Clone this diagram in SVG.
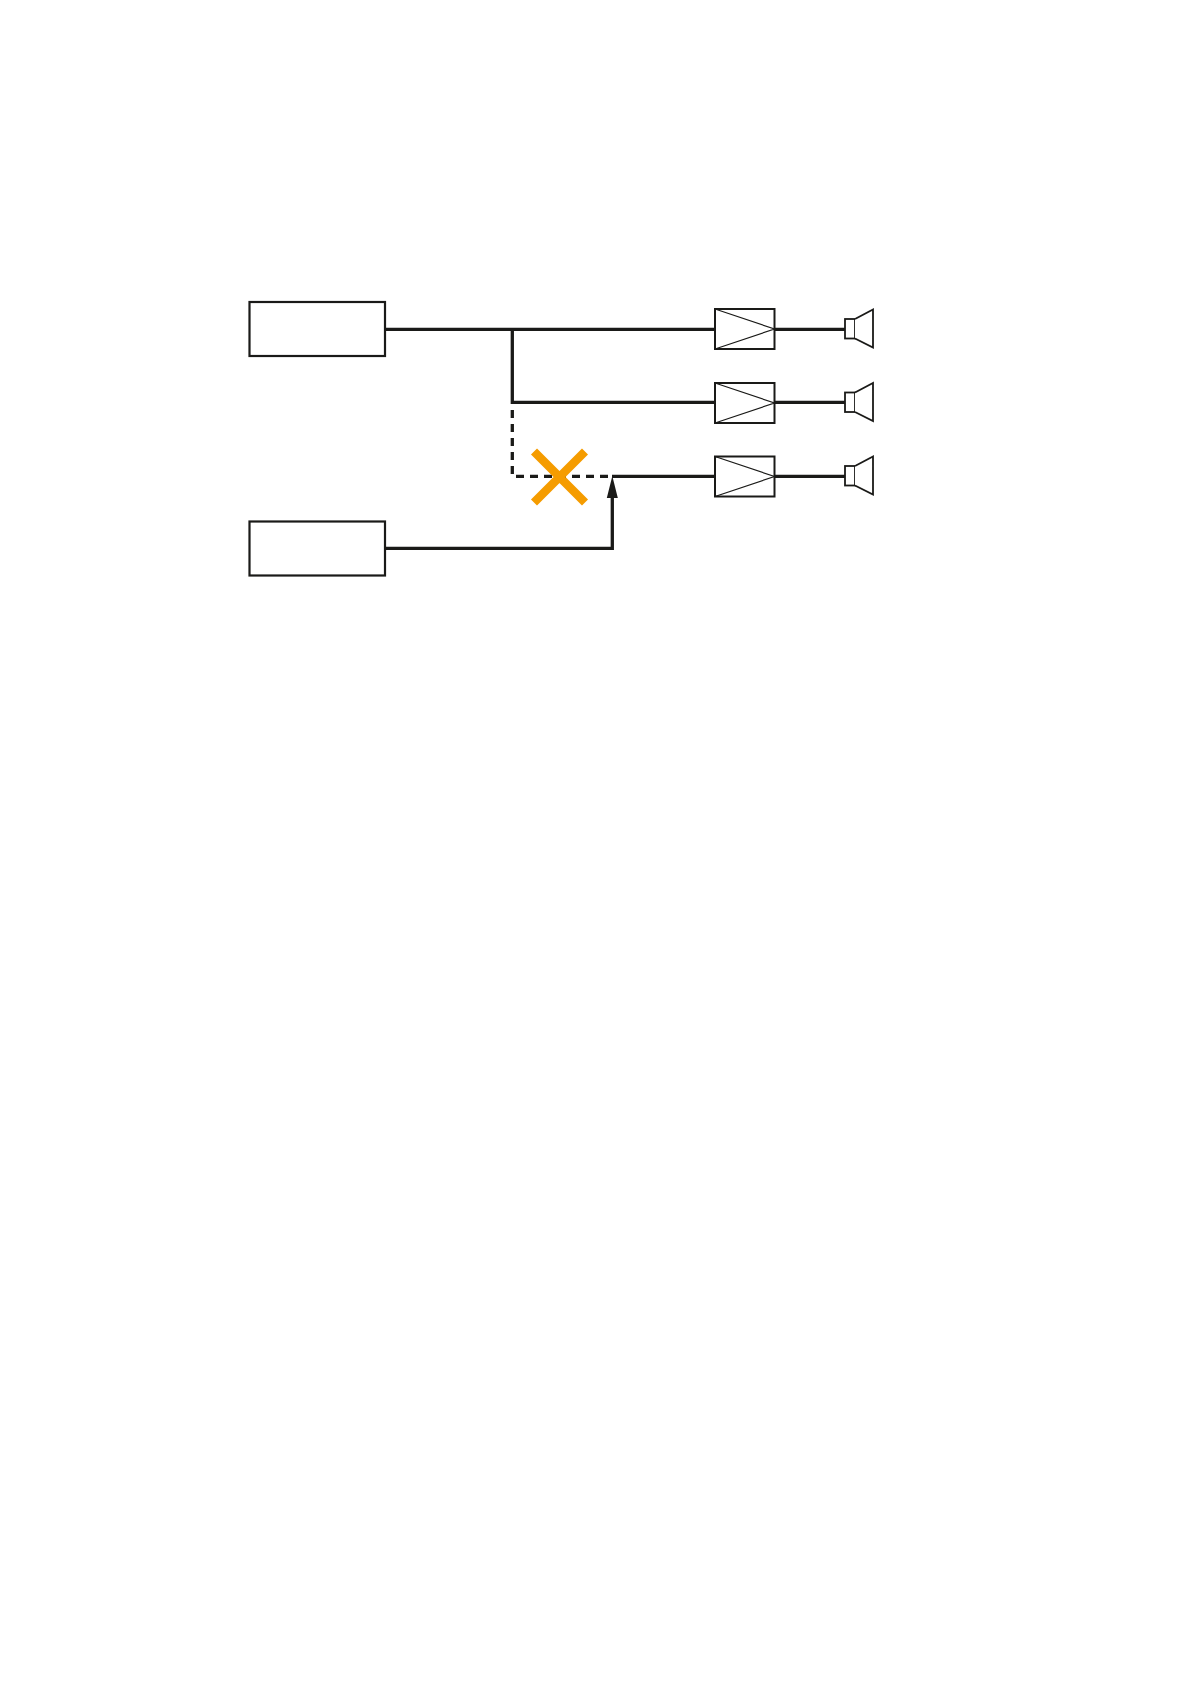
<svg xmlns="http://www.w3.org/2000/svg" width="1191" height="1684" viewBox="0 0 1191 1684">
<style>
.box{fill:#fff;stroke:#1a1a18;stroke-width:2.2}
.wire{fill:none;stroke:#1a1a18;stroke-width:3.3}
.dash{stroke-dasharray:8 6}
.thin{fill:none;stroke:#1a1a18;stroke-width:1.2}
.amp{fill:#fff;stroke:#1a1a18;stroke-width:2}
.spk{fill:#fff;stroke:#1a1a18;stroke-width:1.8;stroke-linejoin:miter}
</style>
<defs>
<g id="amp-shape"><rect class="amp" x="715" y="-20" width="59.500" height="40"/><path class="thin" d="M715-20L774.500 0L715 20"/></g>
<g id="spk-shape"><rect class="spk" x="845" y="-10" width="10" height="19.500"/><path class="spk" d="M855-10L873-19.500V18.500L855 9.500"/></g>
</defs>
<rect width="1191" height="1684" fill="#fff"/>
<g id="connectors">
<path class="wire" d="M385 329.300H715M512.300 329.300V402.300H715M774 329.300H845M774 402.300H845M774 476.300H845M612 476.300H715"/>
<path class="wire dash" d="M512.300 410V476.300H612"/>
<path class="wire" d="M385 548.300H612.300V496"/>
<path d="M612.300 476L606.800 498H617.800Z" fill="#1a1a18"/>
</g>
<g id="source-1"><rect class="box" x="249.500" y="302" width="135.500" height="54"/></g>
<g id="source-2"><rect class="box" x="249.500" y="521.500" width="135.500" height="54"/></g>
<g id="amp-1"><use href="#amp-shape" y="329"/></g>
<g id="amp-2"><use href="#amp-shape" y="403"/></g>
<g id="amp-3"><use href="#amp-shape" y="476.500"/></g>
<g id="speaker-1"><use href="#spk-shape" y="329"/></g>
<g id="speaker-2"><use href="#spk-shape" y="402.500"/></g>
<g id="speaker-3"><use href="#spk-shape" y="476"/></g>
<g id="cross"><path d="M534 451.500L585 502.500M585 451.500L534 502.500" fill="none" stroke="#f59c00" stroke-width="8.500"/></g>
</svg>
